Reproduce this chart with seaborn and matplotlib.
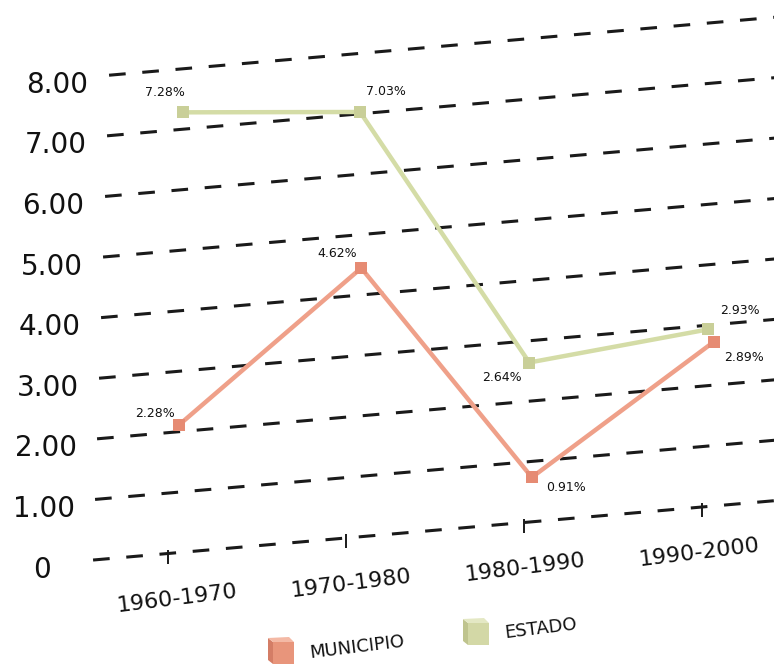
import numpy as np
import pandas as pd
import matplotlib
matplotlib.use("Agg")
import matplotlib.pyplot as plt
import seaborn as sns
from matplotlib.transforms import Affine2D
from matplotlib.patches import Polygon

# ---- data -------------------------------------------------------------
periods = ["1960-1970", "1970-1980", "1980-1990", "1990-2000"]
municipio = [2.28, 4.62, 0.91, 2.89]
estado = [7.28, 7.03, 2.64, 2.93]
y_ticks = [0, 1, 2, 3, 4, 5, 6, 7, 8]
y_tick_labels = ["0", "1.00", "2.00", "3.00", "4.00", "5.00", "6.00", "7.00", "8.00"]
series_names = ["ESTADO", "MUNICIPIO"]

df = pd.DataFrame({
    "pos": list(range(len(periods))) * 2,
    "valor": estado + municipio,
    "serie": ["ESTADO"] * len(periods) + ["MUNICIPIO"] * len(periods),
})

# ---- style ------------------------------------------------------------
sns.set_theme(style="white")
plt.rcParams["font.family"] = ["DejaVu Sans"]
plt.rcParams["lines.scale_dashes"] = False

line_colors = {"ESTADO": "#D4DCA6", "MUNICIPIO": "#EFA089"}
marker_colors = {"ESTADO": "#C9CF98", "MUNICIPIO": "#E68B73"}
cube_colors = {
    "MUNICIPIO": ("#E8957B", "#D47D66", "#F4B9A5"),
    "ESTADO": ("#D3D8A6", "#BFC48E", "#E4E8C4"),
}
ink = "#1a1a1a"
text_ink = "#111111"

W, H = 774, 667
fig = plt.figure(figsize=(W / 100, H / 100), dpi=100)
ax = fig.add_axes([0, 0, 1, 1])
ax.set_facecolor("white")

# oblique (tilted) projection of the chart plane: (category, value) -> pixels
view = Affine2D(np.array([[178.0, 2.0, 168.0],
                          [15.5, 60.6, 113.5],
                          [0.0, 0.0, 1.0]]))


def place(dx=0.0, dy=0.0):
    """Projection plus a pixel nudge (dy measured downwards)."""
    return view + Affine2D().translate(dx, -dy) + ax.transData


# depth offset of the front series
depth = {"ESTADO": (0.0, 0.0), "MUNICIPIO": (6.0, 10.0)}

# ---- dashed grid ------------------------------------------------------
for v in y_ticks:
    ax.plot([-0.421, 3.6], [v, v], color=ink, lw=2.2, dashes=(12, 12),
            dash_capstyle="butt", transform=place(), zorder=1)

# category tick marks on the base line
ax.plot(range(len(periods)), [0] * len(periods), ls="none", marker="|",
        markersize=10, mew=1.4, color=ink, transform=place(0, 3), zorder=1)

# ---- series -----------------------------------------------------------
n_before = len(ax.lines)
sns.lineplot(data=df, x="pos", y="valor", hue="serie", hue_order=series_names,
             palette=line_colors, marker="s", markersize=8, markeredgewidth=0,
             linewidth=3.2, sort=False, legend=False, ax=ax, zorder=3)

new_lines = ax.lines[n_before:]
for name, ln in zip(series_names, new_lines):
    ln.set_transform(place(*depth[name]))
    ln.set_markerfacecolor(marker_colors[name])
    ln.set_markeredgecolor(marker_colors[name])
    ln.set_zorder(3 if name == "ESTADO" else 4)

# ---- value labels -----------------------------------------------------
label_offsets = {
    "ESTADO": [(-18, -20), (26, -20), (-27, 15), (32, -19)],
    "MUNICIPIO": [(-24, -12), (-24, -15), (34, 10), (30, 16)],
}
values = {"ESTADO": estado, "MUNICIPIO": municipio}
for name in series_names:
    ddx, ddy = depth[name]
    for i, v in enumerate(values[name]):
        ox, oy = label_offsets[name][i]
        ax.text(i, v, f"{v:.2f}%", transform=place(ddx + ox, ddy + oy),
                ha="center", va="center", fontsize=9, color=text_ink,
                zorder=5)

# ---- axis labels ------------------------------------------------------
for v, lab in zip(y_ticks, y_tick_labels):
    ax.text(-0.71, v, lab, transform=place(0, 13), ha="center",
            va="baseline", fontsize=20, color=text_ink)

for i, lab in enumerate(periods):
    ax.text(i, 0, lab, transform=place(10 - 4 * i, 51.5), ha="center",
            va="baseline", rotation=7, rotation_mode="anchor",
            fontsize=16, color=text_ink)

# ---- legend -----------------------------------------------------------
def cube(x0, y0, colors):
    front, side, top = colors
    def p(pts):
        return [(x, H - y) for x, y in pts]
    ax.add_patch(Polygon(p([(x0, y0 + 4), (x0 + 5, y0 + 8), (x0 + 5, y0 + 30),
                            (x0, y0 + 26)]), closed=True, fc=side, ec="none",
                         transform=ax.transData, zorder=5))
    ax.add_patch(Polygon(p([(x0, y0 + 4), (x0 + 21, y0 + 3), (x0 + 26, y0 + 8),
                            (x0 + 5, y0 + 8)]), closed=True, fc=top, ec="none",
                         transform=ax.transData, zorder=5))
    ax.add_patch(Polygon(p([(x0 + 5, y0 + 8), (x0 + 26, y0 + 8),
                            (x0 + 26, y0 + 30), (x0 + 5, y0 + 30)]),
                         closed=True, fc=front, ec="none",
                         transform=ax.transData, zorder=5))


legend_layout = {"MUNICIPIO": ((268, 634), (310, 653)),
                 "ESTADO": ((463, 615), (505, 633))}
for name in ["MUNICIPIO", "ESTADO"]:
    (cx, cy), (tx, ty) = legend_layout[name]
    cube(cx, cy, cube_colors[name])
    ax.text(tx, H - ty, name, ha="left", va="center", rotation=7,
            rotation_mode="anchor", fontsize=13, color=text_ink,
            transform=ax.transData)

ax.set_xlim(0, W)
ax.set_ylim(0, H)
ax.axis("off")
fig.savefig("out.png", dpi=100, facecolor="white")
